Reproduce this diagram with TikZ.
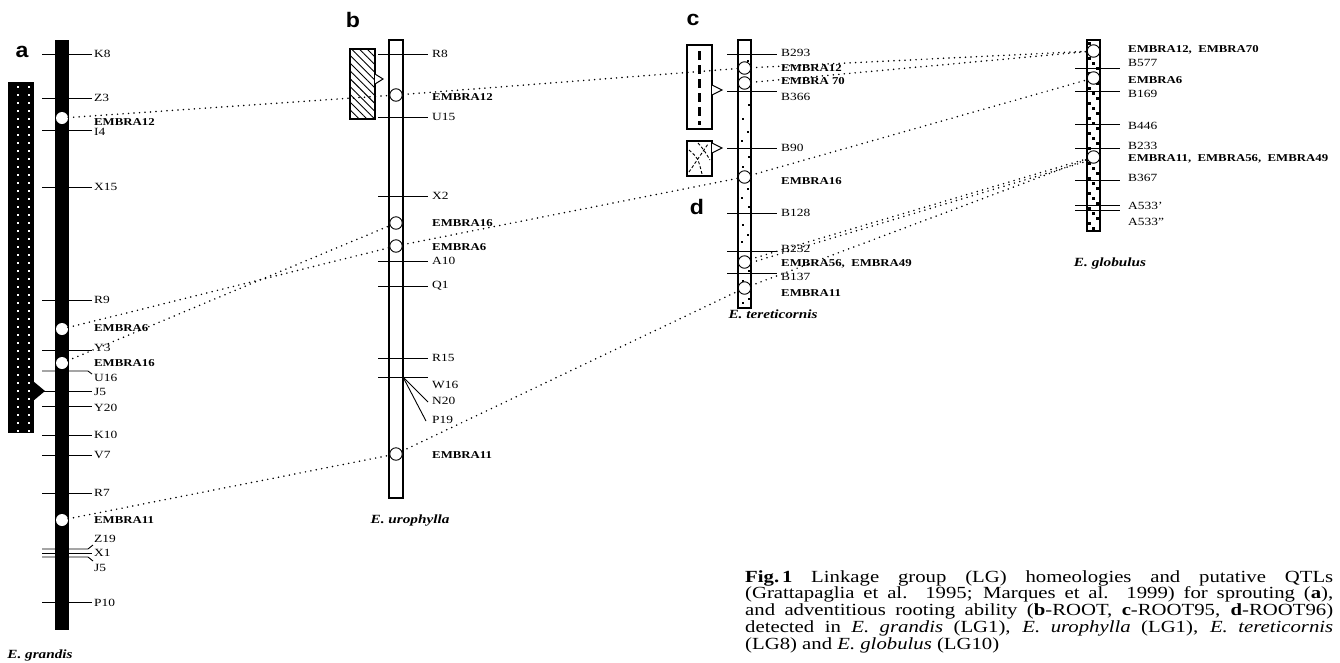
\documentclass[tikz,border=0pt]{standalone}
\usepackage{fontspec}
\setmainfont{Liberation Serif}[FakeStretch=1.22]
\newfontfamily\letterfont{Liberation Sans}[FakeStretch=1.1]
\usetikzlibrary{patterns.meta}
\begin{document}
\begin{tikzpicture}[x=1pt,y=-1pt,
  mtick/.style={line width=0.9pt},
  lbl/.style={anchor=west,inner sep=0pt,font=\fontsize{11}{12}\selectfont},
  elbl/.style={anchor=west,inner sep=0pt,font=\fontsize{10.5}{12}\selectfont\bfseries},
  spec/.style={inner sep=0pt,font=\fontsize{12.5}{14}\selectfont\bfseries\itshape},
  lettr/.style={inner sep=0pt,font=\letterfont\bfseries\fontsize{21}{24}\selectfont},
  locw/.style={circle,draw,fill=white,line width=0.9pt,minimum size=12.5pt,inner sep=0pt},
  loca/.style={circle,fill=white,minimum size=12pt,inner sep=0pt},
  conn/.style={line width=1.7pt,line cap=round,dash pattern=on 0pt off 5.5pt},
  chrom/.style={draw,line width=1.2pt,fill=white},
  qtl/.style={draw,line width=1.3pt},
  tri/.style={draw,line width=1pt,fill=white}
]
\useasboundingbox (0,0) rectangle (1340,662);

% ================= a : E. grandis =================
\node[lettr] (la) at (22,52) {a};
\fill (8,82) rectangle (34,433);
\fill (33,381) -- (45,391) -- (33,401) -- cycle;
\foreach \y in {86,94,...,430} {
  \fill[white] (17,\y) rectangle +(2,2);
  \fill[white] (28,\y) rectangle +(2,2);
}
\fill (55,40) rectangle (69,630);
\foreach \y/\ly/\t [count=\i] in {54/54/K8, 98/98/Z3, 130/132/I4, 187/187/X15, 300/300/R9,
   350/348/Y3, 391/392/J5, 406/408/Y20, 435/435/K10, 455/455/V7, 493/493/R7, 553/553/X1, 602/603/P10}
{ \draw[mtick] (42,\y) -- (92,\y); \node[lbl] (al\i) at (94,\ly) {\t}; }
\draw[mtick] (42,371) -- (88,371) -- (92,374);
\node[lbl] (aU16) at (94,378) {U16};
\draw[mtick] (42,549) -- (88,549) -- (93,545);
\node[lbl] (aZ19) at (94,539) {Z19};
\draw[mtick] (42,557) -- (88,557) -- (93,561);
\node[lbl] (aJ5b) at (94,568) {J5};
\node[loca] (a12) at (62,118) {};
\node[loca] (a6) at (62,329) {};
\node[loca] (a16) at (62,363) {};
\node[loca] (a11) at (62,520) {};
\node[elbl] (ae12) at (94,122) {EMBRA12};
\node[elbl] (ae6) at (94,328) {EMBRA6};
\node[elbl] (ae16) at (94,363) {EMBRA16};
\node[elbl] (ae11) at (94,520) {EMBRA11};
\node[spec] (sa) at (40,655) {E. grandis};

% ================= b : E. urophylla =================
\node[lettr] (lb) at (353,20) {b};
\draw[qtl,pattern={Lines[angle=-45,distance=5.5pt,line width=0.9pt]}] (350,49) rectangle (375,119);
\draw[tri] (375,74) -- (383,79) -- (375,84);
\draw[chrom] (389,40) rectangle (403,498);
\foreach \y/\t [count=\i] in {54/R8, 117/U15, 196/X2, 261/A10, 286/Q1, 358/R15}
{ \draw[mtick] (378,\y) -- (428,\y); \node[lbl] (bl\i) at (432,\y) {\t}; }
\draw[mtick] (378,377) -- (428,377);
\draw[mtick] (403,377) -- (428,402);
\draw[mtick] (403,377) -- (426,421);
\node[lbl] (bW16) at (432,385) {W16};
\node[lbl] (bN20) at (432,401) {N20};
\node[lbl] (bP19) at (432,420) {P19};
\node[locw] (b12) at (396,95) {};
\node[locw] (b16) at (396,223) {};
\node[locw] (b6) at (396,246) {};
\node[locw] (b11) at (396,454) {};
\node[elbl] (be12) at (432,97) {EMBRA12};
\node[elbl] (be16) at (432,223) {EMBRA16};
\node[elbl] (be6) at (432,247) {EMBRA6};
\node[elbl] (be11) at (432,455) {EMBRA11};
\node[spec] (sb) at (410,521) {E. urophylla};

% ================= c/d : E. tereticornis =================
\node[lettr] (lc) at (693,20) {c};
\node[lettr] (ld) at (697,207) {d};
\draw[line width=2pt] (687,45) rectangle (712,129);
\draw[line width=2.2pt,dash pattern=on 9pt off 5pt] (699.5,51) -- (699.5,125);
\draw[tri] (712,85) -- (722,90) -- (712,95);
\draw[line width=1.5pt] (687,141) rectangle (712,176);
\draw[line width=0.9pt,dash pattern=on 3pt off 2pt] (689,172) -- (708,144);
\draw[line width=0.9pt,dash pattern=on 3pt off 2pt] (689,150) .. controls (698,158) .. (702,174);
\draw[line width=0.9pt,dash pattern=on 3pt off 2pt] (698,143) .. controls (704,150) .. (710,160);
\draw[tri] (712,143) -- (722,148) -- (712,153);
\draw[chrom] (738,40) rectangle (751,308);
\foreach \x/\y in {747/60,741/72,748/104,742/118,747/131,741/140,748/156,742/166,747/188,741/197,
  748/206,742/224,747/234,741/241,748/270,742/280,748/298,742/302}
{ \fill (\x,\y) rectangle +(1.7,1.7); }
\foreach \y/\ly/\t [count=\i] in {54/53/B293, 91/97/B366, 148/148/B90, 213/213/B128, 251/249/B232, 273/277/B137}
{ \draw[mtick] (727,\y) -- (777,\y); \node[lbl] (cl\i) at (781,\ly) {\t}; }
\node[locw] (c12) at (744.5,68) {};
\node[locw] (c70) at (744.5,83) {};
\node[locw] (c16) at (744.5,177) {};
\node[locw] (c56) at (744.5,262) {};
\node[locw] (c11) at (744.5,288) {};
\node[elbl] (ce12) at (781,68) {EMBRA12};
\node[elbl] (ce70) at (781,81) {EMBRA 70};
\node[elbl] (ce16) at (781,181) {EMBRA16};
\node[elbl] (ce56) at (781,264) {EMBRA56, \ EMBRA49};
\node[elbl] (ce11) at (781,293) {EMBRA11};
\node[spec] (sc) at (773,314) {E. tereticornis};

% ================= E. globulus =================
\draw[chrom] (1087,40) rectangle (1100,231);
\foreach \k in {0,...,37} {
  \pgfmathsetmacro\xx{1088.2+mod(\k,3)*4}
  \fill (\xx,41.5+\k*5) rectangle +(3,3);
}
\foreach \y/\ly/\t [count=\i] in {68/63/B577, 91/94/B169, 124/126/B446, 148/146/B233, 180/178/B367, 205/206/A533', 210/222/A533''}
{ \draw[mtick] (1075,\y) -- (1120,\y); \node[lbl] (gl\i) at (1128,\ly) {\t}; }
\node[locw] (g12) at (1093.5,51) {};
\node[locw] (g6) at (1093.5,78) {};
\node[locw] (g11) at (1093.5,157) {};
\node[elbl] (ge12) at (1128,50) {EMBRA12, \ EMBRA70};
\node[elbl] (ge6) at (1128,80) {EMBRA6};
\node[elbl] (ge11) at (1128,159) {EMBRA11, \ EMBRA56, \ EMBRA49};
\node[spec] (sg) at (1110,263) {E. globulus};

% ================= connectors =================
\draw[conn] (a12) -- (b12);
\draw[conn] (b12) -- (c12);
\draw[conn] (c12) -- (g12);
\draw[conn] (c70) -- (g12);
\draw[conn] (a6) -- (b6);
\draw[conn] (a16) -- (b16);
\draw[conn] (b6) -- (c16);
\draw[conn] (c16) -- (g6);
\draw[conn] (a11) -- (b11);
\draw[conn] (b11) -- (c11);
\draw[conn] (c11) -- (g11);
\draw[conn] (c56.25) -- (g11.195);
\draw[conn] (c56.-5) -- (g11.215);

% ================= caption =================
\node[anchor=north west,text width=588pt,align=justify,inner sep=0pt,
      font=\fontsize{17}{16.8}\selectfont] (cap) at (745,570)
{\noindent\textbf{Fig.\,1} Linkage group (LG) homeologies and putative QTLs\linebreak
(Grattapaglia et al. 1995; Marques et al. 1999) for sprouting (\textbf{a}),\linebreak
and adventitious rooting ability (\textbf{b}-ROOT, \textbf{c}-ROOT95, \textbf{d}-ROOT96)\linebreak
detected in \textit{E. grandis} (LG1), \textit{E. urophylla} (LG1), \textit{E. tereticornis}\linebreak
(LG8) and \textit{E. globulus} (LG10)};
\end{tikzpicture}
\end{document}
